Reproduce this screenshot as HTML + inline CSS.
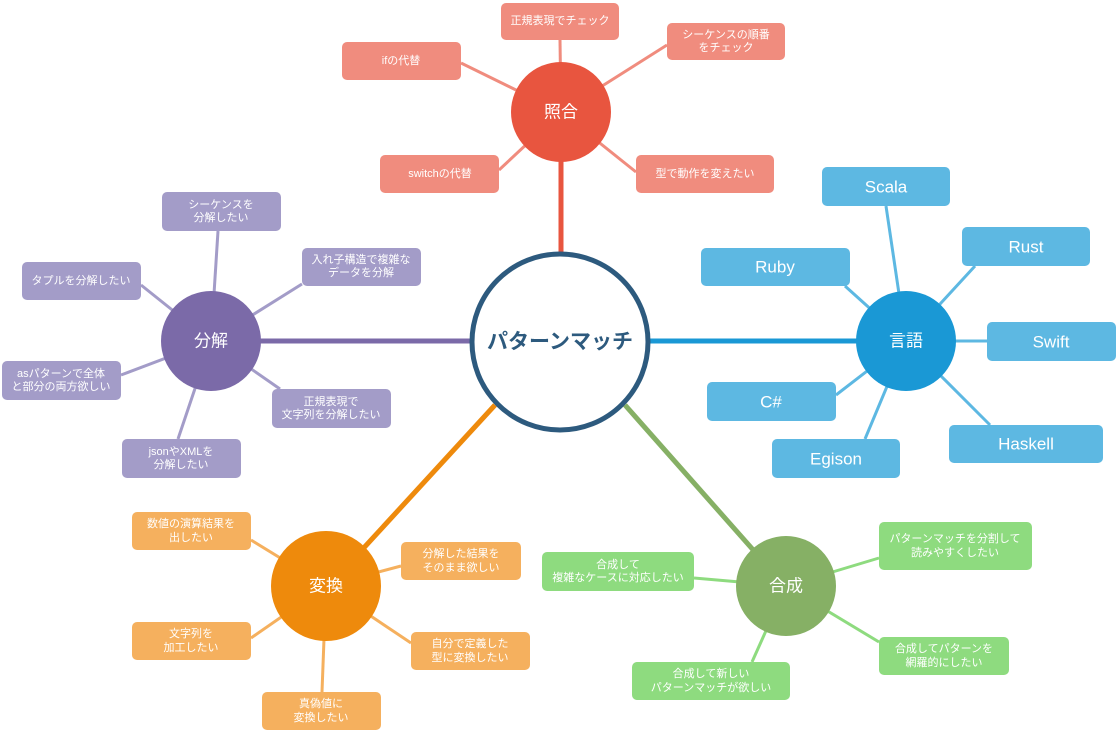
<!DOCTYPE html>
<html><head><meta charset="utf-8"><style>
html,body{margin:0;padding:0;background:#fff;width:1118px;height:733px;overflow:hidden}
text{font-family:"Liberation Sans","Noto Sans CJK JP",sans-serif;fill:#fff;text-anchor:middle;dominant-baseline:central}
.s{font-size:11px}.l{font-size:17px}.c{font-size:17px}
</style></head><body>
<svg width="1118" height="733" xmlns="http://www.w3.org/2000/svg">
<g stroke="#f08c7e" stroke-width="3">
<line x1="561" y1="112" x2="560" y2="40"/><line x1="561" y1="112" x2="461" y2="63"/><line x1="561" y1="112" x2="667" y2="45"/><line x1="561" y1="112" x2="499" y2="170"/><line x1="561" y1="112" x2="636" y2="172"/>
</g>
<line x1="561" y1="160" x2="561" y2="255" stroke="#e8553f" stroke-width="5"/>
<g stroke="#5db8e2" stroke-width="3">
<line x1="906" y1="341" x2="886" y2="206"/><line x1="906" y1="341" x2="975" y2="266"/><line x1="906" y1="341" x2="845" y2="286"/><line x1="906" y1="341" x2="987" y2="341"/><line x1="906" y1="341" x2="836" y2="395"/><line x1="906" y1="341" x2="990" y2="425"/><line x1="906" y1="341" x2="865" y2="439"/>
</g>
<line x1="650" y1="341" x2="860" y2="341" stroke="#1a98d5" stroke-width="5"/>
<g stroke="#a39cc8" stroke-width="3">
<line x1="211" y1="341" x2="218" y2="231"/><line x1="211" y1="341" x2="141" y2="285"/><line x1="211" y1="341" x2="302" y2="284"/><line x1="211" y1="341" x2="121" y2="375"/><line x1="211" y1="341" x2="280" y2="389"/><line x1="211" y1="341" x2="178" y2="439"/>
</g>
<line x1="258" y1="341" x2="472" y2="341" stroke="#7b6aa8" stroke-width="5"/>
<g stroke="#f5b05e" stroke-width="3">
<line x1="326" y1="586" x2="251" y2="540"/><line x1="326" y1="586" x2="401" y2="566"/><line x1="326" y1="586" x2="251" y2="638"/><line x1="326" y1="586" x2="411" y2="643"/><line x1="326" y1="586" x2="322" y2="692"/>
</g>
<line x1="495" y1="405" x2="360" y2="552" stroke="#ee8a0c" stroke-width="5"/>
<g stroke="#8edb7f" stroke-width="3">
<line x1="786" y1="586" x2="694" y2="578"/><line x1="786" y1="586" x2="879" y2="558"/><line x1="786" y1="586" x2="879" y2="642"/><line x1="786" y1="586" x2="752" y2="662"/>
</g>
<line x1="625" y1="405" x2="755" y2="552" stroke="#86b065" stroke-width="5"/>

<circle cx="560" cy="342" r="88" fill="#fff" stroke="#2d5a7e" stroke-width="5"/>
<text x="560" y="342" style="fill:#2d5a7e;font-size:21px;font-weight:bold">パターンマッチ</text>

<g fill="#f08c7e">
<rect x="501" y="3" width="118" height="37" rx="5"/><rect x="342" y="42" width="119" height="38" rx="5"/><rect x="667" y="23" width="118" height="37" rx="5"/><rect x="380" y="155" width="119" height="38" rx="5"/><rect x="636" y="155" width="138" height="38" rx="5"/>
</g>
<text class="s" x="560" y="21">正規表現でチェック</text>
<text class="s" x="401" y="61">ifの代替</text>
<text class="s" x="726" y="35">シーケンスの順番</text><text class="s" x="726" y="48">をチェック</text>
<text class="s" x="440" y="174">switchの代替</text>
<text class="s" x="705" y="174">型で動作を変えたい</text>
<circle cx="561" cy="112" r="50" fill="#e8553f"/><text class="c" x="561" y="112">照合</text>

<g fill="#5db8e2">
<rect x="822" y="167" width="128" height="39" rx="5"/><rect x="962" y="227" width="128" height="39" rx="5"/><rect x="701" y="248" width="149" height="38" rx="5"/><rect x="987" y="322" width="129" height="39" rx="5"/><rect x="707" y="382" width="129" height="39" rx="5"/><rect x="949" y="425" width="154" height="38" rx="5"/><rect x="772" y="439" width="128" height="39" rx="5"/>
</g>
<text class="l" x="886" y="187">Scala</text><text class="l" x="1026" y="247">Rust</text><text class="l" x="775" y="267">Ruby</text><text class="l" x="1051" y="342">Swift</text><text class="l" x="771" y="402">C#</text><text class="l" x="1026" y="444">Haskell</text><text class="l" x="836" y="459">Egison</text>
<circle cx="906" cy="341" r="50" fill="#1a98d5"/><text class="c" x="906" y="341">言語</text>

<g fill="#a39cc8">
<rect x="162" y="192" width="119" height="39" rx="5"/><rect x="22" y="262" width="119" height="38" rx="5"/><rect x="302" y="248" width="119" height="38" rx="5"/><rect x="2" y="361" width="119" height="39" rx="5"/><rect x="272" y="389" width="119" height="39" rx="5"/><rect x="122" y="439" width="119" height="39" rx="5"/>
</g>
<text class="s" x="221" y="205">シーケンスを</text><text class="s" x="221" y="218">分解したい</text>
<text class="s" x="81" y="281">タプルを分解したい</text>
<text class="s" x="361" y="260">入れ子構造で複雑な</text><text class="s" x="361" y="273">データを分解</text>
<text class="s" x="61" y="374">asパターンで全体</text><text class="s" x="61" y="387">と部分の両方欲しい</text>
<text class="s" x="331" y="402">正規表現で</text><text class="s" x="331" y="415">文字列を分解したい</text>
<text class="s" x="181" y="452">jsonやXMLを</text><text class="s" x="181" y="465">分解したい</text>
<circle cx="211" cy="341" r="50" fill="#7b6aa8"/><text class="c" x="211" y="341">分解</text>

<g fill="#f5b05e">
<rect x="132" y="512" width="119" height="38" rx="5"/><rect x="401" y="542" width="120" height="38" rx="5"/><rect x="132" y="622" width="119" height="38" rx="5"/><rect x="411" y="632" width="119" height="38" rx="5"/><rect x="262" y="692" width="119" height="38" rx="5"/>
</g>
<text class="s" x="191" y="524">数値の演算結果を</text><text class="s" x="191" y="538">出したい</text>
<text class="s" x="461" y="554">分解した結果を</text><text class="s" x="461" y="568">そのまま欲しい</text>
<text class="s" x="191" y="634">文字列を</text><text class="s" x="191" y="648">加工したい</text>
<text class="s" x="470" y="644">自分で定義した</text><text class="s" x="470" y="658">型に変換したい</text>
<text class="s" x="321" y="704">真偽値に</text><text class="s" x="321" y="718">変換したい</text>
<circle cx="326" cy="586" r="55" fill="#ee8a0c"/><text class="c" x="326" y="586">変換</text>

<g fill="#8edb7f">
<rect x="542" y="552" width="152" height="39" rx="5"/><rect x="879" y="522" width="153" height="48" rx="5"/><rect x="879" y="637" width="130" height="38" rx="5"/><rect x="632" y="662" width="158" height="38" rx="5"/>
</g>
<text class="s" x="618" y="565">合成して</text><text class="s" x="618" y="578">複雑なケースに対応したい</text>
<text class="s" x="955" y="539">パターンマッチを分割して</text><text class="s" x="955" y="553">読みやすくしたい</text>
<text class="s" x="944" y="649">合成してパターンを</text><text class="s" x="944" y="663">網羅的にしたい</text>
<text class="s" x="711" y="674">合成して新しい</text><text class="s" x="711" y="688">パターンマッチが欲しい</text>
<circle cx="786" cy="586" r="50" fill="#86b065"/><text class="c" x="786" y="586">合成</text>
</svg>
</body></html>
